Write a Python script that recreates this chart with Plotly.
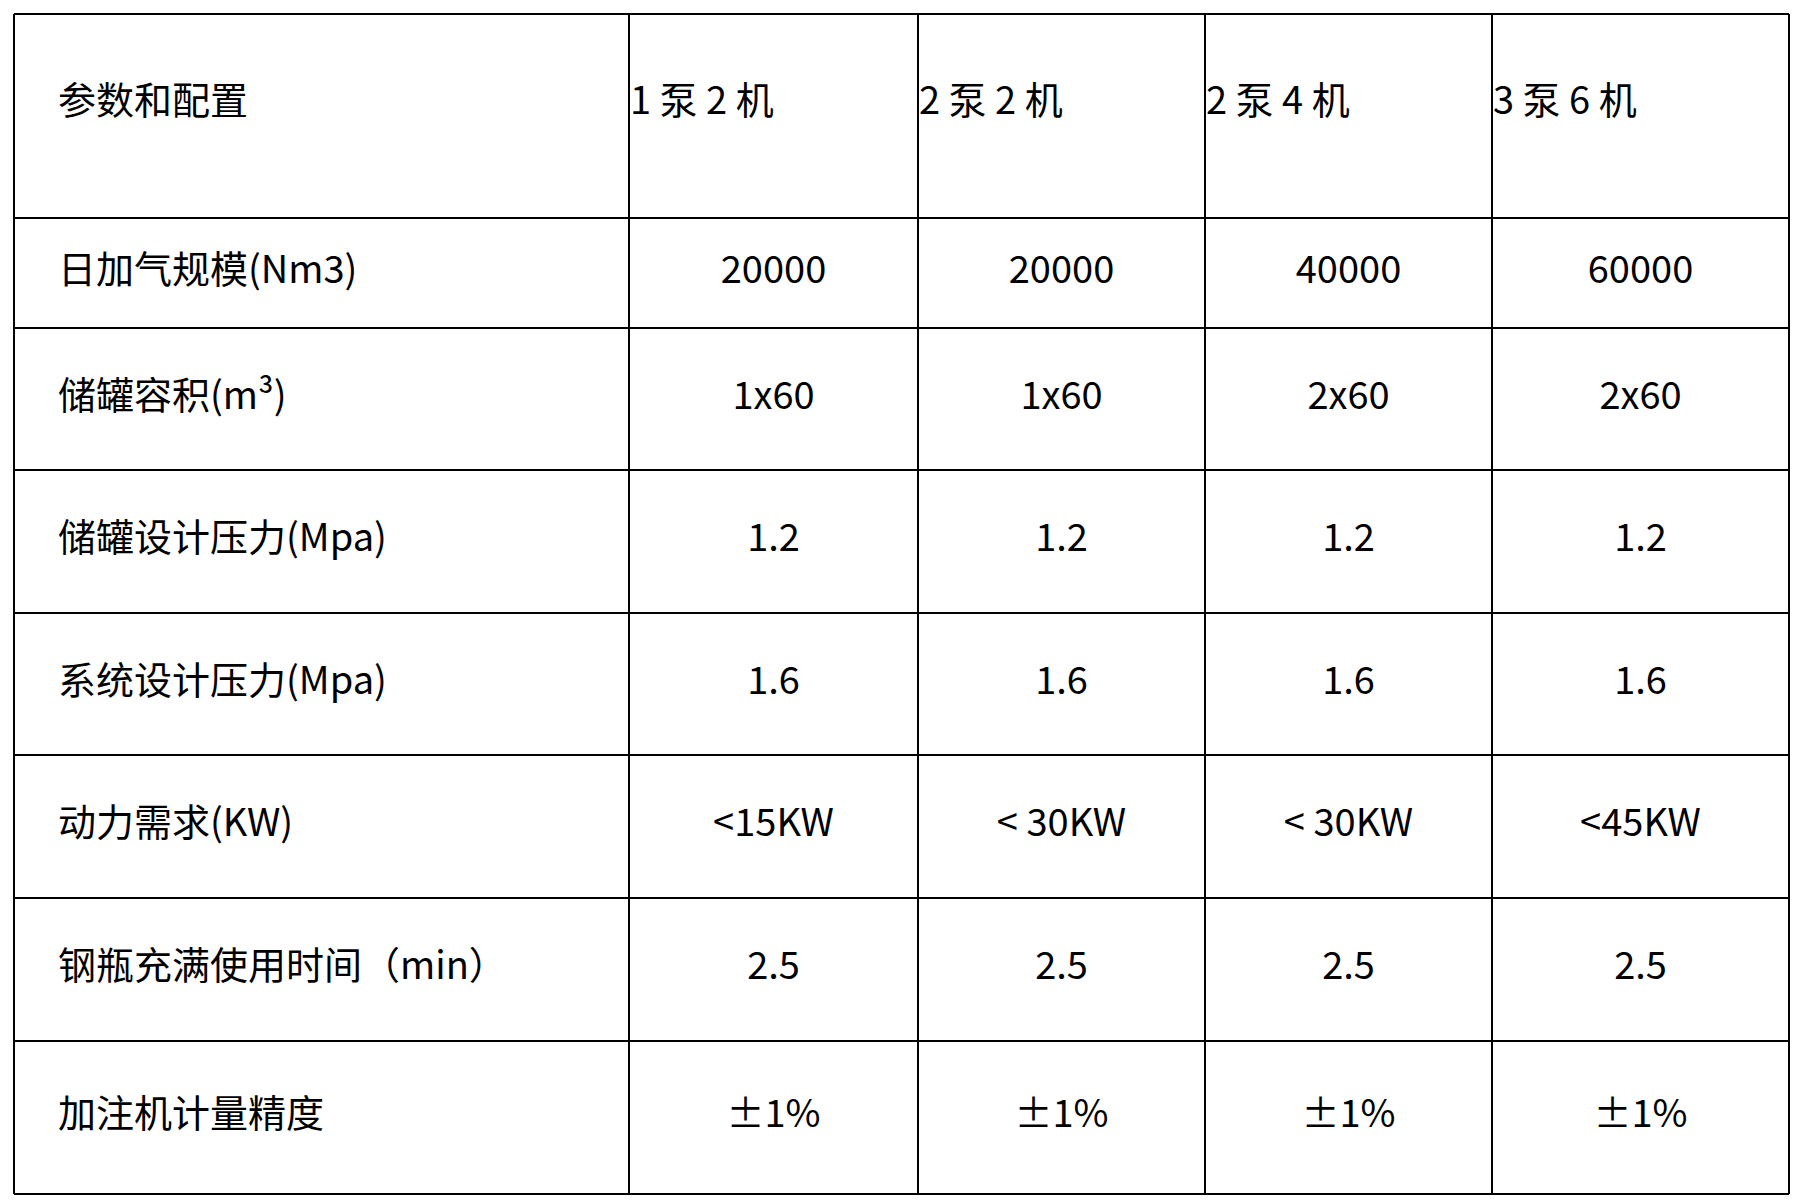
import plotly.graph_objects as go

# table content
header = ["参数和配置", "1 泵 2 机", "2 泵 2 机", "2 泵 4 机", "3 泵 6 机"]
params = ["日加气规模(Nm3)", "储罐容积(m³)", "储罐设计压力(Mpa)", "系统设计压力(Mpa)",
          "动力需求(KW)", "钢瓶充满使用时间（min）", "加注机计量精度"]
col_1p2m = ["20000", "1x60", "1.2", "1.6", "<15KW", "2.5", "±1%"]
col_2p2m = ["20000", "1x60", "1.2", "1.6", "< 30KW", "2.5", "±1%"]
col_2p4m = ["40000", "2x60", "1.2", "1.6", "< 30KW", "2.5", "±1%"]
col_3p6m = ["60000", "2x60", "1.2", "1.6", "<45KW", "2.5", "±1%"]

# grid geometry (pixels, page body adds ~8px offset)
col_edges = [6, 621, 910, 1197, 1484, 1781]
row_edges = [6, 210, 320, 462, 605, 747, 890, 1033, 1186]

FONT = dict(family="Noto Sans CJK SC", size=38, color="black")

fig = go.Figure()

# grid lines
for x in col_edges:
    fig.add_shape(type="line", x0=x, x1=x, y0=row_edges[0], y1=row_edges[-1],
                  line=dict(color="black", width=2))
for y in row_edges:
    fig.add_shape(type="line", x0=col_edges[0], x1=col_edges[-1], y0=y, y1=y,
                  line=dict(color="black", width=2))

mid_rows = [(row_edges[i] + row_edges[i + 1]) / 2 for i in range(len(row_edges) - 1)]
mid_cols = [(col_edges[i] + col_edges[i + 1]) / 2 for i in range(len(col_edges) - 1)]

# header row: left aligned
hx = [col_edges[0] + 44] + [c + 1 for c in col_edges[1:5]]
fig.add_trace(go.Scatter(x=hx, y=[mid_rows[0] - 12] * 5, mode="text", text=header,
                         textposition="middle right", textfont=FONT,
                         hoverinfo="skip", showlegend=False))

# parameter names
fig.add_trace(go.Scatter(x=[col_edges[0] + 44] * len(params), y=mid_rows[1:],
                         mode="text", text=params, textposition="middle right",
                         textfont=FONT, hoverinfo="skip", showlegend=False))

# values, centred
for j, col in enumerate([col_1p2m, col_2p2m, col_2p4m, col_3p6m]):
    fig.add_trace(go.Scatter(x=[mid_cols[j + 1]] * len(col), y=mid_rows[1:],
                             mode="text", text=col, textposition="middle center",
                             textfont=FONT, hoverinfo="skip", showlegend=False))

fig.update_layout(
    width=1803, height=1204,
    margin=dict(l=0, r=0, t=0, b=0),
    plot_bgcolor="white", paper_bgcolor="white",
    xaxis=dict(range=[0, 1803], visible=False, fixedrange=True),
    yaxis=dict(range=[1204, 0], visible=False, fixedrange=True),
)

fig.write_html("out.html")
